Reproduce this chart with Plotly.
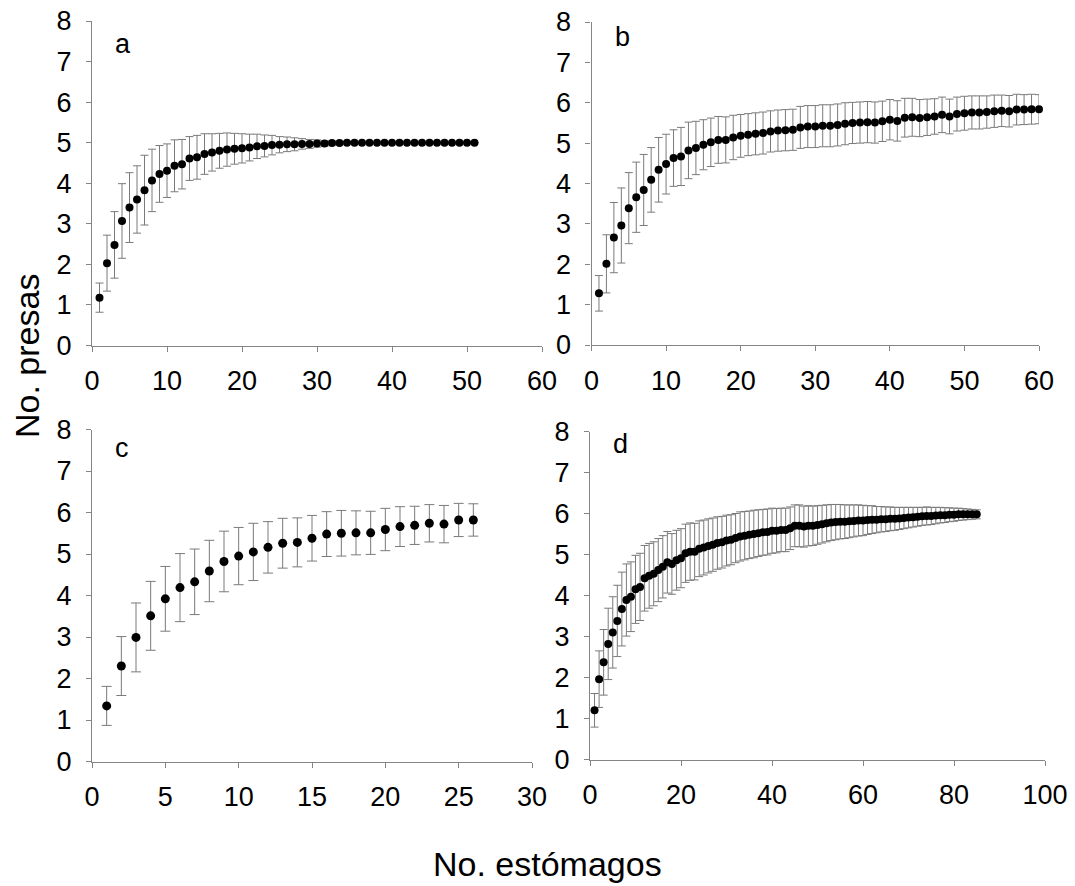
import plotly.graph_objects as go

# ---------------- data ----------------
x_a = list(range(1, 52))
mean_a = [1.18, 2.03, 2.48, 3.07, 3.40, 3.60, 3.83, 4.07, 4.23, 4.31,
          4.43, 4.47, 4.61, 4.64, 4.72, 4.76, 4.80, 4.83, 4.85, 4.86,
          4.88, 4.91, 4.92, 4.94, 4.95, 4.96, 4.96, 4.97, 4.97, 4.98,
          4.98, 4.99, 4.99, 5.0, 5.0, 5.0, 5.0, 5.0, 5.0, 5.0,
          5.0, 5.0, 5.0, 5.0, 5.0, 5.0, 5.0, 5.0, 5.0, 5.0, 5.0]
sd_a = [0.36, 0.69, 0.82, 0.92, 0.86, 0.83, 0.86, 0.77, 0.70, 0.66,
        0.64, 0.61, 0.54, 0.54, 0.50, 0.46, 0.43, 0.41, 0.38, 0.36,
        0.33, 0.30, 0.27, 0.24, 0.20, 0.18, 0.16, 0.13, 0.11, 0.09,
        0.07, 0.05, 0.04, 0.03, 0.02, 0.0, 0.0, 0.0, 0.0, 0.0,
        0.0, 0.0, 0.0, 0.0, 0.0, 0.0, 0.0, 0.0, 0.0, 0.0, 0.0]

x_b = list(range(1, 61))
mean_b = [1.28, 2.01, 2.66, 2.96, 3.39, 3.66, 3.84, 4.09, 4.34, 4.48,
          4.63, 4.67, 4.82, 4.88, 4.96, 5.02, 5.08, 5.08, 5.14, 5.18,
          5.21, 5.23, 5.25, 5.29, 5.31, 5.32, 5.33, 5.39, 5.41, 5.41,
          5.43, 5.43, 5.45, 5.48, 5.50, 5.51, 5.52, 5.51, 5.54, 5.58,
          5.55, 5.63, 5.64, 5.62, 5.64, 5.66, 5.70, 5.66, 5.72, 5.74,
          5.76, 5.76, 5.77, 5.79, 5.80, 5.79, 5.83, 5.83, 5.84, 5.84]
sd_b = [0.44, 0.72, 0.87, 0.93, 0.88, 0.87, 0.88, 0.80, 0.80, 0.74,
        0.70, 0.72, 0.70, 0.66, 0.62, 0.60, 0.58, 0.57, 0.55, 0.53,
        0.52, 0.52, 0.52, 0.51, 0.51, 0.51, 0.51, 0.52, 0.52, 0.52,
        0.52, 0.52, 0.52, 0.52, 0.51, 0.51, 0.51, 0.51, 0.50, 0.50,
        0.50, 0.48, 0.47, 0.46, 0.45, 0.44, 0.44, 0.43, 0.42, 0.42,
        0.41, 0.41, 0.40, 0.40, 0.39, 0.39, 0.38, 0.37, 0.37, 0.36]

x_c = list(range(1, 27))
mean_c = [1.34, 2.30, 2.99, 3.51, 3.92, 4.19, 4.33, 4.59, 4.82, 4.95,
          5.05, 5.16, 5.26, 5.28, 5.38, 5.48, 5.50, 5.51, 5.51, 5.59,
          5.66, 5.69, 5.74, 5.72, 5.82, 5.82]
sd_c = [0.47, 0.71, 0.83, 0.83, 0.78, 0.82, 0.79, 0.74, 0.73, 0.69,
        0.69, 0.62, 0.60, 0.59, 0.55, 0.54, 0.55, 0.53, 0.52, 0.51,
        0.48, 0.46, 0.45, 0.45, 0.40, 0.39]

x_d = list(range(1, 86))
mean_d = [1.20, 1.96, 2.37, 2.82, 3.10, 3.38, 3.67, 3.89, 3.97, 4.15,
          4.21, 4.42, 4.48, 4.53, 4.62, 4.70, 4.81, 4.77, 4.86, 4.91,
          5.03, 5.07, 5.07, 5.14, 5.17, 5.21, 5.24, 5.28, 5.30, 5.34,
          5.36, 5.40, 5.44, 5.46, 5.48, 5.50, 5.52, 5.54, 5.55, 5.58,
          5.58, 5.60, 5.60, 5.64, 5.70, 5.70, 5.68, 5.70, 5.70, 5.72,
          5.74, 5.76, 5.78, 5.79, 5.80, 5.80, 5.81, 5.82, 5.83, 5.83,
          5.84, 5.85, 5.85, 5.86, 5.86, 5.87, 5.87, 5.88, 5.89, 5.90,
          5.91, 5.92, 5.93, 5.94, 5.94, 5.95, 5.96, 5.96, 5.97, 5.97,
          5.98, 5.98, 5.98, 5.98, 5.98]
sd_d = [0.41, 0.69, 0.80, 0.87, 0.87, 0.87, 0.90, 0.88, 0.85, 0.83,
        0.82, 0.80, 0.79, 0.78, 0.77, 0.76, 0.75, 0.74, 0.73, 0.72,
        0.71, 0.70, 0.69, 0.68, 0.67, 0.66, 0.65, 0.64, 0.63, 0.62,
        0.61, 0.60, 0.60, 0.59, 0.58, 0.58, 0.57, 0.56, 0.56, 0.55,
        0.54, 0.53, 0.53, 0.52, 0.51, 0.51, 0.50, 0.49, 0.48, 0.47,
        0.46, 0.45, 0.44, 0.43, 0.42, 0.41, 0.40, 0.39, 0.38, 0.37,
        0.35, 0.34, 0.32, 0.31, 0.30, 0.29, 0.28, 0.27, 0.26, 0.25,
        0.24, 0.23, 0.22, 0.22, 0.21, 0.20, 0.19, 0.18, 0.17, 0.16,
        0.15, 0.14, 0.13, 0.12, 0.11]

panel_labels = ["a", "b", "c", "d"]
x_ranges = [[0, 60], [0, 60], [0, 30], [0, 100]]
x_dticks = [10, 10, 5, 20]
y_range = [0, 8]
y_title = "No. presas"
x_title = "No. estómagos"

# ---------------- figure ----------------
W, H = 1075, 886
FONT = "Liberation Sans, Arial, sans-serif"
AXC = "#858585"
ERRC = "#7a7a7a"


def px(v):
    return v / W


def py(v):
    return 1 - v / H


# pixel boxes (left, right, top, bottom) of each plotting area
boxes = [(92, 542, 21, 345.5), (591.5, 1039, 22, 345),
         (92, 532, 429.5, 761.5), (590, 1045, 431.5, 759.5)]
letter_y = [44.5, 37, 448.5, 444]

datasets = [(x_a, mean_a, sd_a, 8), (x_b, mean_b, sd_b, 8),
            (x_c, mean_c, sd_c, 9), (x_d, mean_d, sd_d, 8)]
capw = [4, 4, 5, 4]

fig = go.Figure()
layout = dict(width=W, height=H,
              margin=dict(l=0, r=0, t=0, b=0, pad=0, autoexpand=False),
              paper_bgcolor="white", plot_bgcolor="white",
              showlegend=False, annotations=[])

for i, ((xs, ms, sds, msz), box) in enumerate(zip(datasets, boxes)):
    n = "" if i == 0 else str(i + 1)
    fig.add_trace(go.Scatter(
        x=xs, y=ms, mode="markers",
        marker=dict(color="black", size=msz),
        error_y=dict(type="data", array=sds, visible=True,
                     color=ERRC, thickness=1, width=capw[i]),
        xaxis="x" + n, yaxis="y" + n, cliponaxis=False))
    l, r, t, b = box
    common = dict(showline=True, linecolor=AXC, linewidth=1.3,
                  ticks="outside", tickcolor=AXC, ticklen=5, tickwidth=1.3,
                  showgrid=False, zeroline=False, automargin=False,
                  ticklabeloverflow="allow",
                  tickfont=dict(family=FONT, size=27, color="black"))
    layout["xaxis" + n] = dict(common, domain=[px(l), px(r)],
                               range=x_ranges[i], dtick=x_dticks[i],
                               tick0=0, anchor="y" + n,
                               ticklabelstandoff=6)
    layout["yaxis" + n] = dict(common, domain=[py(b), py(t)],
                               range=y_range, dtick=1, tick0=0,
                               anchor="x" + n, ticklabelstandoff=9)
    layout["annotations"].append(dict(
        text=panel_labels[i], xref="paper", yref="paper",
        x=px(l + 21), y=py(letter_y[i]), xanchor="left", yanchor="middle",
        showarrow=False, font=dict(family=FONT, size=27, color="black")))

layout["annotations"].append(dict(
    text=y_title, xref="paper", yref="paper", x=px(27), y=py(356),
    xanchor="center", yanchor="middle", textangle=-90, showarrow=False,
    font=dict(family=FONT, size=34, color="black")))
layout["annotations"].append(dict(
    text=x_title, xref="paper", yref="paper", x=px(547), y=py(864),
    xanchor="center", yanchor="middle", showarrow=False,
    font=dict(family=FONT, size=34, color="black")))

fig.update_layout(**layout)
fig.write_html("out.html",
               config={"displayModeBar": False},
               post_script="document.body.style.margin='0';"
                           "document.body.style.overflow='hidden';")
